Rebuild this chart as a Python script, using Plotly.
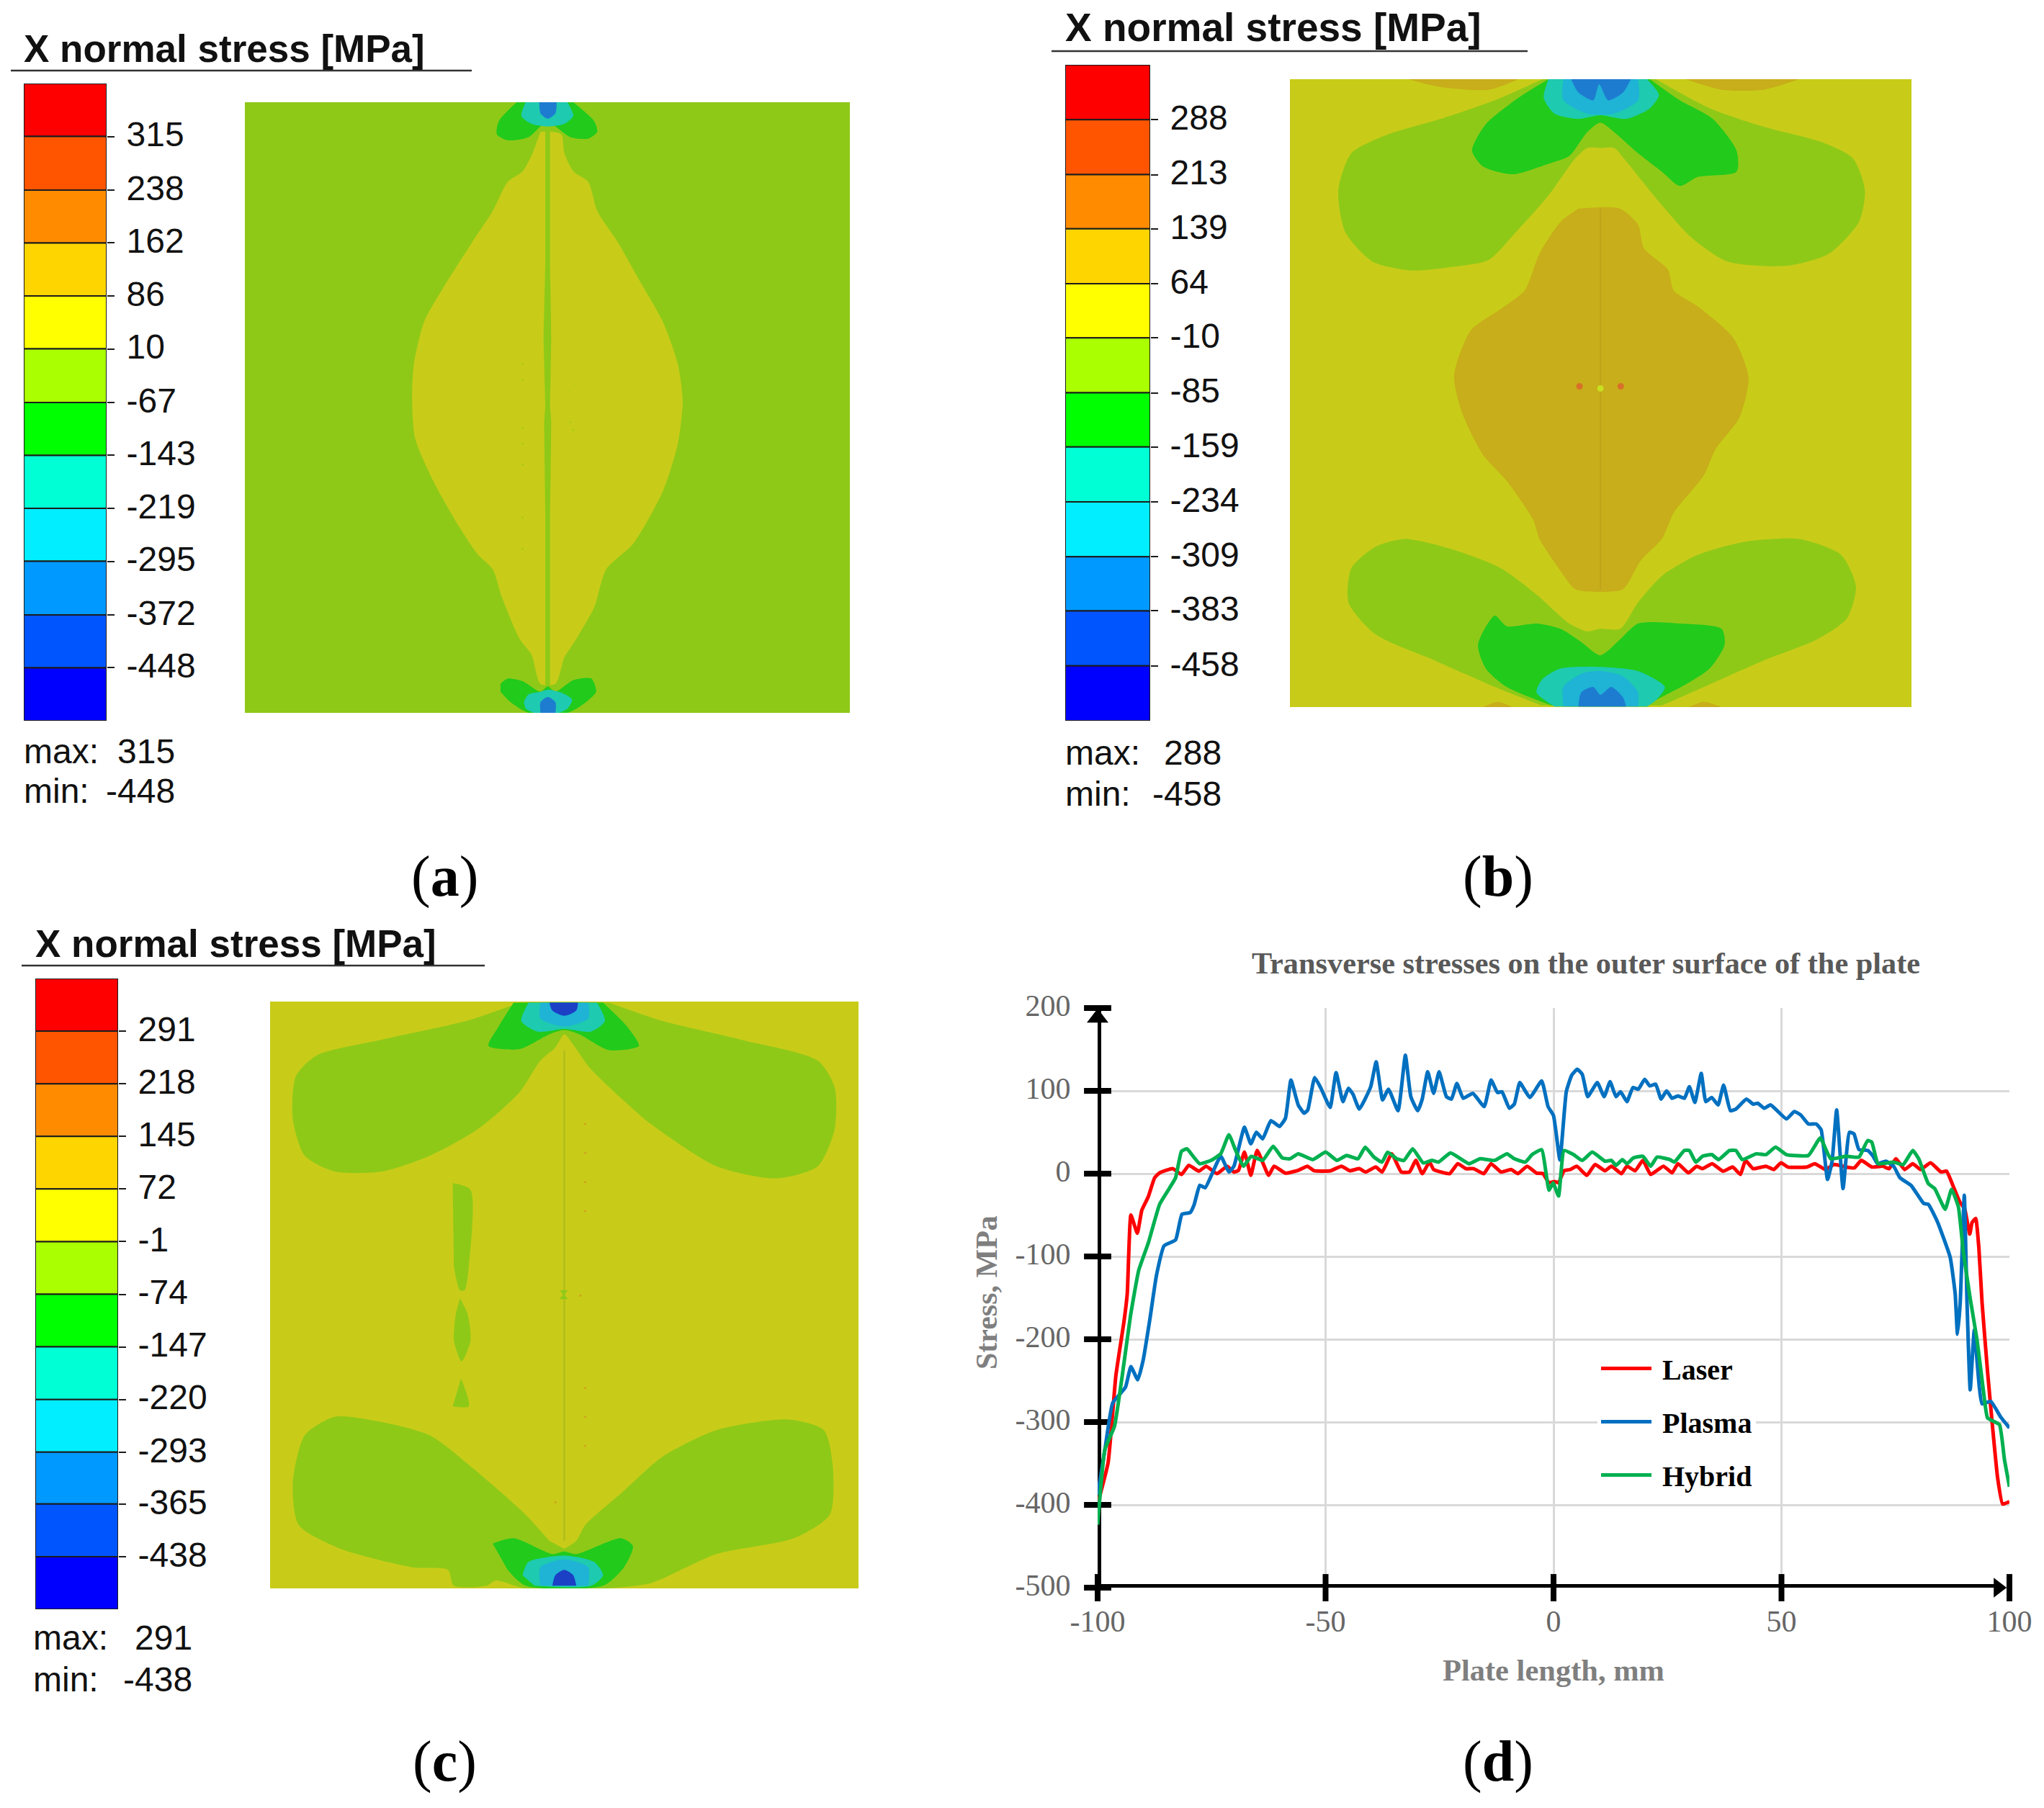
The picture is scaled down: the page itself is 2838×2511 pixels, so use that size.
import plotly.graph_objs as go

# page size, the browser body keeps its default 8px margin
W = 2822
H = 2495
OFF = 8

# ---- colour bars
band_colors = ['#FF0000', '#FF5500', '#FF8C00', '#FFD500', '#FFFF00', '#AAFF00',
               '#00FF00', '#00FFD5', '#00EEFF', '#0099FF', '#0055FF', '#0000FF']
a_ticks = [315, 238, 162, 86, 10, -67, -143, -219, -295, -372, -448]
b_ticks = [288, 213, 139, 64, -10, -85, -159, -234, -309, -383, -458]
c_ticks = [291, 218, 145, 72, -1, -74, -147, -220, -293, -365, -438]
a_edges = [391] + a_ticks + [-524]
b_edges = [363] + b_ticks + [-533]
c_edges = [364] + c_ticks + [-511]

# ---- contour colours
c_green = '#8FC918'
c_yellow = '#C8CC18'
c_orange = '#C8AE1A'
c_dgreen = '#22CA1C'
c_teal = '#1ECAB0'
c_lblue = '#1FB3D5'
c_blue = '#1E7CD0'
c_dblue = '#1B3FC5'

# ---- plate (a) contours, plate units
a_plate_x = [410, 1423, 1423, 410]
a_plate_y = [194, 194, 1350, 1350]
a_lens_x = [905, 925, 940, 945, 960, 985, 1000, 1035, 1070, 1110, 1135, 1143, 1135, 1110, 1060, 1015, 995, 965, 945, 930,
            905, 890, 870, 840, 825, 800, 770, 725, 695, 690, 693, 710, 745, 790, 825, 850, 875, 892]
a_lens_y = [250, 250, 255, 290, 325, 345, 400, 460, 530, 610, 690, 760, 840, 930, 1030, 1078, 1150, 1210, 1245, 1295,
            1295, 1240, 1210, 1130, 1078, 1050, 1000, 910, 830, 750, 690, 610, 540, 460, 400, 345, 325, 290]
a_strip_x = [913, 921, 921, 923, 921, 923, 921, 921, 913, 913, 911, 913, 910, 913]
a_strip_y = [240, 240, 500, 640, 770, 800, 980, 1300, 1300, 980, 800, 770, 640, 500]
a_top_green_x = [865, 835, 832, 850, 885, 905, 917, 930, 955, 985, 1000, 995, 960]
a_top_green_y = [194, 230, 255, 266, 260, 240, 232, 240, 260, 263, 250, 230, 194]
a_top_teal_x = [880, 873, 890, 917, 945, 960, 950]
a_top_teal_y = [194, 220, 235, 240, 235, 220, 194]
a_top_blue_x = [903, 905, 917, 930, 932]
a_top_blue_y = [194, 215, 225, 215, 194]
a_bot_green_x = [838, 850, 875, 905, 917, 930, 960, 990, 998, 975, 950, 885, 855, 838]
a_bot_green_y = [1295, 1285, 1290, 1310, 1300, 1310, 1288, 1285, 1310, 1335, 1350, 1350, 1330, 1310]
a_bot_teal_x = [877, 885, 905, 917, 940, 958, 950, 935, 895, 880]
a_bot_teal_y = [1330, 1315, 1310, 1306, 1312, 1325, 1342, 1350, 1350, 1342]
a_bot_blue_x = [905, 905, 917, 930, 930]
a_bot_blue_y = [1350, 1330, 1320, 1330, 1350]
a_mark_x = [945, 965, 950]
a_mark_y = [745, 730, 742]
a_speck_x = [875, 875, 875, 875, 875, 875, 875, 955, 960]
a_speck_y = [690, 720, 810, 840, 880, 980, 1040, 800, 815]

# ---- plate (b) contours
b_plate_x = [447, 1488, 1488, 447]
b_plate_y = [150, 150, 1338, 1338]
b_tint1_x = [645, 700, 780, 830]
b_tint1_y = [150, 165, 170, 150]
b_tint2_x = [1110, 1170, 1240, 1300]
b_tint2_y = [150, 170, 170, 150]
b_tint3_x = [770, 795, 820]
b_tint3_y = [1338, 1328, 1338]
b_tint4_x = [1115, 1140, 1170]
b_tint4_y = [1338, 1328, 1338]
b_core_x = [965, 1000, 1030, 1040, 1080, 1090, 1130, 1190, 1215, 1200, 1160, 1140, 1090, 1070, 1035, 1005, 965,
            925, 900, 865, 855, 810, 770, 735, 722, 750, 800, 840, 865, 900, 930]
b_core_y = [392, 395, 425, 470, 510, 550, 580, 640, 715, 790, 850, 900, 970, 1020, 1060, 1115, 1120,
            1115, 1080, 1020, 985, 910, 860, 780, 710, 625, 585, 550, 480, 420, 395]
b_top_lobe_x = [870, 790, 700, 610, 550, 528, 540, 585, 650, 720, 780, 825, 880, 925, 945, 967, 990, 1010, 1060, 1120,
                1180, 1280, 1350, 1400, 1410, 1390, 1340, 1240, 1150, 1060]
b_top_lobe_y = [150, 190, 225, 255, 290, 360, 440, 495, 512, 505, 492, 440, 370, 300, 280, 280, 280, 305, 375, 450,
                495, 503, 480, 420, 360, 300, 270, 240, 205, 150]
b_top_green_x = [880, 830, 775, 752, 770, 820, 880, 915, 945, 967, 990, 1030, 1070, 1100, 1130, 1195, 1195, 1155, 1100, 1050]
b_top_green_y = [150, 185, 235, 285, 315, 330, 310, 295, 250, 232, 250, 290, 325, 352, 335, 325, 285, 225, 190, 150]
b_top_teal_x = [880, 872, 890, 930, 967, 1010, 1050, 1065, 1045]
b_top_teal_y = [150, 185, 215, 225, 218, 225, 205, 180, 150]
b_top_lblue_x = [905, 905, 945, 990, 1030, 1030]
b_top_lblue_y = [150, 190, 215, 215, 190, 150]
b_top_blue_x = [918, 930, 955, 965, 980, 1005, 1018]
b_top_blue_y = [150, 175, 190, 160, 190, 175, 150]
b_bot_lobe_x = [868, 790, 690, 590, 545, 550, 590, 640, 720, 800, 860, 915, 945, 967, 1000, 1030, 1070, 1130, 1210,
                1300, 1370, 1395, 1380, 1330, 1240, 1150, 1070]
b_bot_lobe_y = [1335, 1300, 1250, 1200, 1140, 1075, 1035, 1020, 1040, 1075, 1125, 1180, 1195, 1190, 1190, 1140, 1090, 1050, 1025,
                1020, 1050, 1110, 1170, 1210, 1250, 1295, 1335]
b_bot_green_x = [885, 810, 775, 762, 790, 810, 860, 900, 935, 967, 1000, 1030, 1100, 1170, 1175, 1150, 1110, 1060, 1045]
b_bot_green_y = [1335, 1300, 1265, 1220, 1165, 1185, 1180, 1190, 1215, 1240, 1210, 1180, 1180, 1190, 1220, 1265, 1295, 1325, 1337]
b_bot_teal_x = [890, 860, 870, 900, 967, 1030, 1075, 1060, 1045]
b_bot_teal_y = [1337, 1310, 1285, 1265, 1262, 1270, 1300, 1325, 1337]
b_bot_lblue_x = [905, 905, 935, 967, 1005, 1030, 1030]
b_bot_lblue_y = [1337, 1300, 1275, 1270, 1280, 1310, 1337]
b_bot_blue_x = [930, 935, 955, 967, 985, 1005, 1010]
b_bot_blue_y = [1337, 1310, 1300, 1315, 1300, 1320, 1337]
b_dots_x = [932, 1001, 967]
b_dots_y = [731, 731, 735]
b_dot_colors = ['#D8702A', '#D8702A', '#C8E020']
b_weld_x = [967, 967]
b_weld_y = [395, 1115]

# ---- plate (c) contours
c_plate_x = [452, 1438, 1438, 452]
c_plate_y = [178, 178, 1290, 1290]
c_top_lobe_x = [870, 780, 640, 530, 495, 490, 510, 560, 640, 720, 800, 870, 905, 930, 945, 960, 985, 1020, 1090, 1200,
                1300, 1370, 1398, 1398, 1370, 1240, 1110, 1020]
c_top_lobe_y = [180, 215, 250, 280, 320, 400, 470, 500, 500, 470, 420, 350, 290, 265, 240, 260, 300, 340, 410, 490,
                513, 490, 420, 340, 290, 250, 215, 180]
c_top_green_x = [860, 835, 818, 870, 920, 945, 970, 1020, 1070, 1050, 1010]
c_top_green_y = [180, 225, 262, 268, 240, 232, 240, 270, 262, 225, 180]
c_top_teal_x = [885, 873, 900, 945, 990, 1013, 1000]
c_top_teal_y = [180, 215, 235, 230, 235, 215, 180]
c_top_lblue_x = [905, 905, 945, 985, 985]
c_top_lblue_y = [180, 210, 225, 210, 180]
c_top_blue_x = [920, 925, 945, 965, 968]
c_top_blue_y = [180, 195, 205, 195, 180]
c_bot_lobe_x = [920, 880, 800, 720, 640, 560, 510, 490, 500, 570, 690, 750, 760, 815, 830, 880, 1010, 1090, 1200,
                1330, 1390, 1395, 1380, 1320, 1200, 1110, 1040, 980, 965, 945]
c_bot_lobe_y = [1200, 1150, 1070, 1000, 975, 965, 1000, 1090, 1170, 1215, 1250, 1255, 1285, 1285, 1275, 1290, 1290, 1280, 1225,
                1195, 1150, 1060, 990, 970, 990, 1040, 1110, 1170, 1200, 1215]
c_bot_green_x = [825, 860, 925, 945, 965, 1040, 1060, 1045, 1010, 880, 850]
c_bot_green_y = [1205, 1195, 1225, 1220, 1225, 1195, 1210, 1250, 1285, 1285, 1255]
c_bot_teal_x = [875, 885, 945, 995, 1010, 990, 895]
c_bot_teal_y = [1265, 1240, 1228, 1240, 1265, 1285, 1285]
c_bot_lblue_x = [905, 905, 945, 985, 985]
c_bot_lblue_y = [1285, 1250, 1235, 1250, 1285]
c_bot_blue_x = [925, 930, 945, 960, 965]
c_bot_blue_y = [1285, 1265, 1255, 1265, 1285]
c_isle1_x = [758, 788, 785, 778, 770, 760]
c_isle1_y = [522, 535, 680, 725, 725, 680]
c_isle2_x = [770, 783, 788, 773, 760, 763]
c_isle2_y = [740, 770, 820, 860, 820, 770]
c_isle3_x = [772, 785, 758]
c_isle3_y = [892, 945, 945]
c_spot_x = [937, 951, 945, 951, 937, 943]
c_spot_y = [725, 725, 733, 742, 742, 733]
c_speck_x = [980, 980, 980, 980, 972, 980, 980, 980, 930]
c_speck_y = [410, 465, 520, 575, 735, 910, 965, 1020, 1127]
c_weld_x = [945, 945]
c_weld_y = [270, 1200]

# ---- panel (d), transverse stress vs plate length
d_xticks = [-100, -50, 0, 50, 100]
d_yticks = [200, 100, 0, -100, -200, -300, -400, -500]
d_xlabels = ['-100', '-50', '0', '50', '100']
d_ylabels = ['200', '100', '0', '-100', '-200', '-300', '-400', '-500']

laser_x = [-100, -97.7, -96, -94.2, -93.5, -92.7, -91.3, -90.3, -88.9, -87.5, -86.4, -83.5, -81.6, -80, -77.8, -76.2, -73.8,
           -71.6, -70.1, -69.1, -67.8, -66.4, -65, -62.5, -61.3, -58.8, -56, -54, -52.5, -48.9, -46.5, -44.7, -42.6, -41.2,
           -39, -37.6, -35.5, -33.4, -31.6, -30.2, -28.8, -27.2, -26.3, -22.8, -21, -19.2, -17.5, -15.3, -13.7, -11.5, -9.3,
           -7.8, -5.8, -3.7, -2.3, -1, 0.2, 1.1, 2.3, 3.7, 5.1, 7.3, 9.1, 11.3, 12.7, 14.9, 16.1, 17.9, 19.6, 21.3, 24.1,
           26, 27.3, 29.6, 31.4, 32.7, 34.8, 37.2, 39.3, 41, 42.1, 43.8, 46.6, 48.3, 49.9, 51.4, 55.6, 57.3, 59.7, 61.5,
           64.2, 66, 67.5, 69.8, 72.2, 73.6, 75.1, 77, 78.8, 80.5, 82.7, 85, 86.2, 87.8, 89.1, 90.2, 91.3, 91.8, 92.6, 93.3,
           94, 95.2, 96.3, 97.4, 98.5, 100]
laser_y = [-399, -349, -244, -178, -145, -50, -72, -44, -28, -5, 1, 6, -1, 10, 3, 9, 0,
           9, 2, 4, 26, -2, 28, -2, 9, 0.6, 4, 9, 3.5, 3.5, 9, 3.5, 6, 2,
           8, 2, 24, 2, 2, 16, 0, 14, 5, 0, 12, 6, 6, 0, 12, 2, 5,
           0, 9, 0.6, 0, -11, -9.5, -11, 3.5, 5, 9, -2, 11, 3.5, 9, 0, 9, 3.5, 16, -1, 9,
           1, 12, 1, 9, 6, 12, 3, 8, -1, 16, 6, 9, 5, 13, 8, 8, 12, 5, 11,
           8, 7, 16, 8, 9, 6, 18, 5, 12, 5, 13, 2, 3, -17, -34, -43, -73, -59, -54, -90,
           -156, -239, -306, -367, -399, -396]

plasma_x = [-100, -98.4, -96.7, -93.9, -92.7, -91.2, -90, -88.6, -87.1, -85.4, -82.9, -81.5, -79.7, -78.8, -77.6, -76.4,
            -73, -71.2, -70.1, -67.8, -66.4, -65.2, -63.8, -62, -60.1, -58.8, -57.6, -56, -54.7, -53.9, -52.4, -51, -49,
            -47.7, -46.2, -45, -44, -42.6, -40.1, -38.9, -37.5, -36.2, -34.1, -32.5, -31.3, -29.8, -28.8, -27.6, -26.3,
            -25.1, -23.5, -22.4, -21.2, -19.8, -17.7, -15.2, -13.7, -12.3, -11.3, -9.7, -8.6, -7.4, -5.2, -2.6, -1.2, 0,
            1.4, 2.8, 4, 5.2, 6.3, 7.5, 9.6, 11.1, 12.4, 13.7, 14.7, 16.1, 17.4, 18.6, 20, 21.1, 22.4, 23.6, 24.8, 26, 27.3,
            28.7, 29.8, 31, 32.4, 33.4, 34.7, 36.1, 37.3, 38.8, 40, 42.3, 43.8, 44.8, 46.2, 47.6, 51.1, 52.8, 54.2, 55.9,
            57.6, 58.7, 60.1, 61.1, 62.1, 63.5, 64.9, 65.9, 67, 68.9, 70.1, 71.1, 72.9, 74.6, 76, 78.4, 81.2, 82.2, 84.2,
            87, 88.1, 88.6, 89.2, 90.1, 90.7, 91.4, 92.3, 94, 95.9, 98.1, 100]
plasma_y = [-388, -333, -277, -258, -233, -249, -225, -178, -123, -87, -80, -49, -47, -37, -14, -17,
            21, 2, 9, 56, 36, 50, 42, 64, 57, 67, 113, 83, 73, 77, 116, 103, 80,
            122, 87, 103, 96, 78, 105, 135, 89, 102, 76, 143, 93, 76, 90, 123, 97,
            123, 93, 90, 109, 91, 97, 81, 113, 98, 99, 79, 84, 110, 92, 112, 81, 70,
            16.5, 99, 119, 126, 120, 93, 110, 93, 111, 93, 99, 87, 104, 102, 114, 106, 108, 90, 100, 91, 94,
            91, 105, 86, 121, 87, 92, 83, 107, 76, 78, 90, 84, 85, 79, 83, 66, 75, 71, 60,
            60, 53, -7, 15, 77, -18, 50, 48, 29, 28, 21, 12, 15, 9, -5, -14, -36, -37, -58,
            -101, -145, -194, -156, -26, -156, -261, -189, -278, -275, -294, -307]

hybrid_x = [-100, -98.4, -96.3, -94.6, -92.8, -91, -88.9, -86.4, -84.3, -82.9, -81.6, -80.4, -79.2, -77.6, -75.1, -73,
            -71.2, -69.8, -68, -66.3, -63.8, -61.5, -59.5, -57.8, -56, -52.8, -50, -47.5, -45.4, -42.9, -41.3, -39.4, -37.6,
            -36.4, -34.4, -32.8, -30.9, -28.6, -26.7, -25.2, -22.6, -18.5, -16.1, -12.9, -10.2, -8.6, -6.2, -4.7, -2.6, -1,
            -0.1, 1.1, 2.3, 4.4, 6.3, 8.5, 11.3, 12.7, 13.7, 15.1, 16.1, 17.5, 19.6, 21.3, 22.7, 25.5, 26.5, 28.7, 29.8, 31.2,
            32.7, 34.7, 36.2, 38.6, 40, 41.4, 44.5, 46.6, 48.7, 51.1, 55.9, 58.5, 60.8, 64.2, 67, 68.9, 69.8, 71.2, 74.6, 76.7,
            78.8, 80.1, 82.2, 83.6, 85.9, 87.3, 88.8, 89.9, 91.4, 92.9, 94.4, 95.2, 97.8, 98.9, 100]
hybrid_y = [-424, -333, -305, -244, -172, -117, -84, -37, -18, -5, 27, 30, 22, 12, 16, 24,
            47, 29, 9, 21, 16, 33, 19, 18, 24, 17, 26, 16, 22, 18, 32, 20, 14,
            26, 18, 16, 30, 13, 16, 14, 25, 12, 18, 16, 24, 18, 14, 23, 29, -20,
            -11, -27, 28, 23, 16, 26, 15, 16, 10, 17, 12, 19, 21, 9, 20, 17, 14, 28, 28, 14,
            21, 23, 17, 28, 28, 17, 24, 23, 32, 23, 22, 43, 18, 21, 20, 40, 38, 12, 14, 11,
            28, 18, -12, -18, -43, -19, -40, -95, -151, -201, -267, -295, -303, -345, -378]

fig = go.Figure()


def fx(px):
    return (px - OFF) / W


def fy(py):
    return 1 - (py - OFF) / H


def add_colorbar(num, box, ticks, edges):
    x0, x1, y0, y1 = box
    base = edges[1:]
    height = [edges[i] - edges[i + 1] for i in range(12)]
    fig.add_trace(go.Bar(x=[0] * 12, y=height, base=base, width=1, marker=dict(color=band_colors, line=dict(color='#1c1c1c', width=2)),
                         showlegend=False, hoverinfo='skip', xaxis='x%d' % num, yaxis='y%d' % num))
    fig.layout['xaxis%d' % num] = dict(domain=[fx(x0), fx(x1)], range=[-0.5, 0.5], visible=False, anchor='y%d' % num)
    fig.layout['yaxis%d' % num] = dict(domain=[fy(y1), fy(y0)], range=[edges[-1], edges[0]], side='right', anchor='x%d' % num,
                                       tickvals=ticks, ticktext=[str(t) for t in ticks], ticks='outside', ticklen=10, tickwidth=2,
                                       tickcolor='#1c1c1c', showgrid=False, zeroline=False, ticklabelstandoff=7, ticklabelshift=-3,
                                       tickfont=dict(family='Liberation Sans', size=48, color='#111111'))


def add_plate(num, box, plate_x, plate_y):
    x0, x1, y0, y1 = box
    fig.layout['xaxis%d' % num] = dict(domain=[fx(x0), fx(x1)], range=[min(plate_x), max(plate_x)], visible=False, anchor='y%d' % num)
    fig.layout['yaxis%d' % num] = dict(domain=[fy(y1), fy(y0)], range=[max(plate_y), min(plate_y)], visible=False, anchor='x%d' % num)


def region(num, xs, ys, color, shape='spline'):
    fig.add_trace(go.Scatter(x=xs, y=ys, mode='lines', fill='toself', fillcolor=color, line=dict(width=0, shape=shape, smoothing=0.7),
                             showlegend=False, hoverinfo='skip', xaxis='x%d' % num, yaxis='y%d' % num))


def specks(num, xs, ys, color, size):
    fig.add_trace(go.Scatter(x=xs, y=ys, mode='markers', marker=dict(color=color, size=size),
                             showlegend=False, hoverinfo='skip', xaxis='x%d' % num, yaxis='y%d' % num))


add_colorbar(1, (33, 148, 116, 1001), a_ticks, a_edges)
add_colorbar(2, (1479, 1597, 90, 1001), b_ticks, b_edges)
add_colorbar(3, (49, 164, 1359, 2235), c_ticks, c_edges)

# plate a
add_plate(4, (340, 1180, 142, 990), a_plate_x, a_plate_y)
region(4, a_plate_x, a_plate_y, c_green, 'linear')
region(4, a_lens_x, a_lens_y, c_yellow)
region(4, a_strip_x, a_strip_y, c_green, 'linear')
region(4, a_top_green_x, a_top_green_y, c_dgreen)
region(4, a_top_teal_x, a_top_teal_y, c_teal)
region(4, a_top_blue_x, a_top_blue_y, c_blue)
region(4, a_bot_green_x, a_bot_green_y, c_dgreen)
region(4, a_bot_teal_x, a_bot_teal_y, c_teal)
region(4, a_bot_blue_x, a_bot_blue_y, c_blue)
region(4, a_mark_x, a_mark_y, c_green, 'linear')
specks(4, a_speck_x, a_speck_y, '#ABC91A', 3)

# plate b
add_plate(5, (1791, 2654, 110, 982), b_plate_x, b_plate_y)
region(5, b_plate_x, b_plate_y, c_yellow, 'linear')
region(5, b_tint1_x, b_tint1_y, c_orange)
region(5, b_tint2_x, b_tint2_y, c_orange)
region(5, b_tint3_x, b_tint3_y, c_orange)
region(5, b_tint4_x, b_tint4_y, c_orange)
region(5, b_core_x, b_core_y, c_orange)
region(5, b_top_lobe_x, b_top_lobe_y, c_green)
region(5, b_bot_lobe_x, b_bot_lobe_y, c_green)
region(5, b_top_green_x, b_top_green_y, c_dgreen)
region(5, b_bot_green_x, b_bot_green_y, c_dgreen)
region(5, b_top_teal_x, b_top_teal_y, c_teal)
region(5, b_bot_teal_x, b_bot_teal_y, c_teal)
region(5, b_top_lblue_x, b_top_lblue_y, c_lblue)
region(5, b_bot_lblue_x, b_bot_lblue_y, c_lblue)
region(5, b_top_blue_x, b_top_blue_y, c_blue)
region(5, b_bot_blue_x, b_bot_blue_y, c_blue)
fig.add_trace(go.Scatter(x=b_weld_x, y=b_weld_y, mode='lines', line=dict(color='#BFA31C', width=2),
                         showlegend=False, hoverinfo='skip', xaxis='x5', yaxis='y5'))
specks(5, b_dots_x, b_dots_y, b_dot_colors, 9)

# plate c
add_plate(6, (375, 1192, 1391, 2206), c_plate_x, c_plate_y)
region(6, c_plate_x, c_plate_y, c_yellow, 'linear')
fig.add_trace(go.Scatter(x=c_weld_x, y=c_weld_y, mode='lines', line=dict(color='#B4BF1C', width=3),
                         showlegend=False, hoverinfo='skip', xaxis='x6', yaxis='y6'))
specks(6, c_speck_x, c_speck_y, '#D0A020', 3)
region(6, c_top_lobe_x, c_top_lobe_y, c_green)
region(6, c_bot_lobe_x, c_bot_lobe_y, c_green)
region(6, c_isle1_x, c_isle1_y, c_green)
region(6, c_isle2_x, c_isle2_y, c_green)
region(6, c_isle3_x, c_isle3_y, c_green)
region(6, c_spot_x, c_spot_y, c_green, 'linear')
region(6, c_top_green_x, c_top_green_y, c_dgreen)
region(6, c_bot_green_x, c_bot_green_y, c_dgreen)
region(6, c_top_teal_x, c_top_teal_y, c_teal)
region(6, c_bot_teal_x, c_bot_teal_y, c_teal)
region(6, c_top_lblue_x, c_top_lblue_y, c_lblue)
region(6, c_bot_lblue_x, c_bot_lblue_y, c_lblue)
region(6, c_top_blue_x, c_top_blue_y, c_dblue)
region(6, c_bot_blue_x, c_bot_blue_y, c_dblue)

# panel d: heavy black axes first, the curves go on top of them
fig.add_trace(go.Scatter(x=[-100, -100, 97], y=[200, -500, -500], mode='lines', line=dict(color='black', width=10),
                         showlegend=False, hoverinfo='skip', cliponaxis=False, xaxis='x7', yaxis='y7'))
fig.add_trace(go.Scatter(x=[-100] * len(d_yticks), y=d_yticks, mode='markers',
                         marker=dict(symbol='line-ew', size=27, line=dict(color='black', width=8)),
                         showlegend=False, hoverinfo='skip', cliponaxis=False, xaxis='x7', yaxis='y7'))
fig.add_trace(go.Scatter(x=d_xticks, y=[-500] * len(d_xticks), mode='markers',
                         marker=dict(symbol='line-ns', size=27, line=dict(color='black', width=8)),
                         showlegend=False, hoverinfo='skip', cliponaxis=False, xaxis='x7', yaxis='y7'))
fig.add_trace(go.Scatter(x=[-100], y=[188], mode='markers', marker=dict(symbol='triangle-up', size=26, color='black'),
                         showlegend=False, hoverinfo='skip', cliponaxis=False, xaxis='x7', yaxis='y7'))
fig.add_trace(go.Scatter(x=[97.5], y=[-500], mode='markers', marker=dict(symbol='triangle-right', size=24, color='black'),
                         showlegend=False, hoverinfo='skip', cliponaxis=False, xaxis='x7', yaxis='y7'))

fig.add_trace(go.Scatter(x=laser_x, y=laser_y, name='<b>\u00a0Laser</b>', legendgroup='laser', mode='lines', line=dict(color='#FF0000', width=5, shape='spline', smoothing=0.4),
                         cliponaxis=False, xaxis='x7', yaxis='y7'))
fig.add_trace(go.Scatter(x=plasma_x, y=plasma_y, name='<b>\u00a0Plasma</b>', legendgroup='plasma', mode='lines', line=dict(color='#0070C0', width=5, shape='spline', smoothing=0.4),
                         cliponaxis=False, xaxis='x7', yaxis='y7'))
fig.add_trace(go.Scatter(x=hybrid_x, y=hybrid_y, name='<b>\u00a0Hybrid</b>', legendgroup='hybrid', mode='lines', line=dict(color='#00B050', width=5, shape='spline', smoothing=0.4),
                         cliponaxis=False, xaxis='x7', yaxis='y7'))

fig.layout.xaxis7 = dict(domain=[fx(1524), fx(2790)], range=[-100, 100], anchor='y7', tickvals=d_xticks, ticktext=d_xlabels,
                         ticks='outside', ticklen=10, tickcolor='rgba(0,0,0,0)', showgrid=True, gridcolor='#D9D9D9', gridwidth=3,
                         zeroline=False, showline=False, tickfont=dict(family='Liberation Serif', size=42, color='#666666'),
                         title=dict(text='<b>Plate length, mm</b>', standoff=29, font=dict(family='Liberation Serif', size=42.5, color='#7F7F7F')))
fig.layout.yaxis7 = dict(domain=[fy(2205), fy(1400)], range=[-500, 200], anchor='x7', tickvals=d_yticks, ticktext=d_ylabels,
                         ticks='outside', ticklen=28, tickcolor='rgba(0,0,0,0)', showgrid=True, gridcolor='#D9D9D9', gridwidth=3,
                         zeroline=False, showline=False, ticklabelshift=-4, tickfont=dict(family='Liberation Serif', size=42, color='#666666'))

# the other texts of the page
notes = []


def note(px, py, text, size, family='Liberation Sans', anchor='left', color='#111111', angle=0):
    notes.append(dict(x=fx(px), y=fy(py), xref='paper', yref='paper', text=text, showarrow=False, xanchor=anchor, yanchor='middle', textangle=angle,
                      font=dict(family=family, size=size, color=color)))


note(31, 67, '<b>X normal stress [MPa]</b>', 53)
note(1477, 38, '<b>X normal stress [MPa]</b>', 55)
note(47, 1310, '<b>X normal stress [MPa]</b>', 53)

note(31, 1043, 'max:', 48)
note(245, 1043, '315', 48, anchor='right')
note(31, 1098, 'min:', 48)
note(245, 1098, '-448', 48, anchor='right')
note(1477, 1045, 'max:', 48)
note(1698, 1045, '288', 48, anchor='right')
note(1477, 1102, 'min:', 48)
note(1698, 1102, '-458', 48, anchor='right')
note(44, 2274, 'max:', 48)
note(269, 2274, '291', 48, anchor='right')
note(44, 2332, 'min:', 48)
note(269, 2332, '-438', 48, anchor='right')

note(617, 1217, '(<b>a</b>)', 80, family='Liberation Serif', anchor='center', color='black')
note(2080, 1217, '(<b>b</b>)', 80, family='Liberation Serif', anchor='center', color='black')
note(617, 2446, '(<b>c</b>)', 80, family='Liberation Serif', anchor='center', color='black')
note(2080, 2446, '(<b>d</b>)', 80, family='Liberation Serif', anchor='center', color='black')

note(2202, 1337, '<b>Transverse stresses on the outer surface of the plate</b>', 42.3, family='Liberation Serif', anchor='center', color='#595959')
note(1370, 1795, '<b>Stress, MPa</b>', 42, family='Liberation Serif', anchor='center', color='#7F7F7F', angle=-90)

rules = [(15, 655, 98), (1460, 2121, 71), (30, 673, 1341)]
fig.update_layout(
    width=W, height=H, margin=dict(l=0, r=0, t=0, b=0, autoexpand=False), paper_bgcolor='white', plot_bgcolor='white', annotations=notes, barmode='overlay',
    shapes=[dict(type='line', xref='paper', yref='paper', x0=fx(r[0]), x1=fx(r[1]), y0=fy(r[2]), y1=fy(r[2]), line=dict(color='#333333', width=2.5)) for r in rules],
    legend=dict(x=fx(2218), y=fy(1868), xanchor='left', yanchor='top', bgcolor='white', itemwidth=70, tracegroupgap=19,
                font=dict(family='Liberation Serif', size=40, color='black')),
)

fig.write_html("out.html")
